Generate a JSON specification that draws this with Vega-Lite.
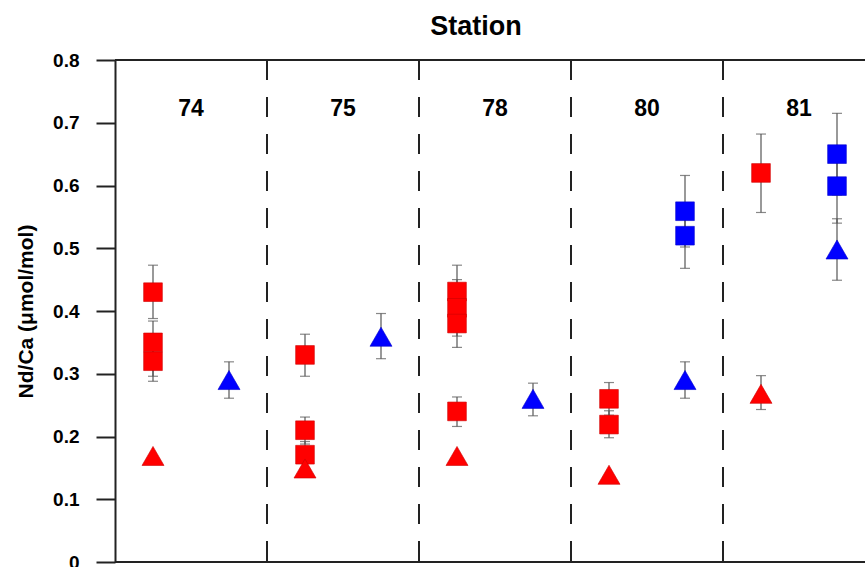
{
  "$schema": "https://vega.github.io/schema/vega-lite/v6.json",
  "autosize": {"type": "none"},
  "padding": {"left": 115, "top": 60, "right": 0, "bottom": 5},
  "width": 750,
  "height": 502,
  "background": "white",
  "config": {
    "font": "Liberation Sans",
    "view": {"stroke": null}
  },
  "title": {
    "text": "Station",
    "fontSize": 27,
    "fontWeight": "bold",
    "color": "black",
    "anchor": "middle",
    "frame": "group",
    "dx": -14,
    "offset": 10
  },
  "datasets": {
    "stations": [
      {"station": "74"},
      {"station": "75"},
      {"station": "78"},
      {"station": "80"},
      {"station": "81"}
    ],
    "points": [
      {"station": "74", "group": "A", "marker": "square", "value": 0.430, "lo": 0.388, "hi": 0.473},
      {"station": "74", "group": "A", "marker": "square", "value": 0.350, "lo": 0.296, "hi": 0.384},
      {"station": "74", "group": "A", "marker": "square", "value": 0.320, "lo": 0.288, "hi": 0.352},
      {"station": "74", "group": "A", "marker": "triangle", "value": 0.169, "lo": null, "hi": null},
      {"station": "74", "group": "B", "marker": "triangle", "value": 0.290, "lo": 0.261, "hi": 0.319},
      {"station": "75", "group": "A", "marker": "square", "value": 0.330, "lo": 0.296, "hi": 0.363},
      {"station": "75", "group": "A", "marker": "square", "value": 0.210, "lo": 0.188, "hi": 0.231},
      {"station": "75", "group": "A", "marker": "square", "value": 0.171, "lo": 0.150, "hi": 0.192},
      {"station": "75", "group": "A", "marker": "triangle", "value": 0.149, "lo": null, "hi": null},
      {"station": "75", "group": "B", "marker": "triangle", "value": 0.359, "lo": 0.324, "hi": 0.396},
      {"station": "78", "group": "A", "marker": "square", "value": 0.431, "lo": 0.389, "hi": 0.473},
      {"station": "78", "group": "A", "marker": "square", "value": 0.405, "lo": 0.360, "hi": 0.450},
      {"station": "78", "group": "A", "marker": "square", "value": 0.380, "lo": 0.342, "hi": 0.418},
      {"station": "78", "group": "A", "marker": "square", "value": 0.240, "lo": 0.216, "hi": 0.263},
      {"station": "78", "group": "A", "marker": "triangle", "value": 0.169, "lo": null, "hi": null},
      {"station": "78", "group": "B", "marker": "triangle", "value": 0.260, "lo": 0.233, "hi": 0.285},
      {"station": "80", "group": "A", "marker": "square", "value": 0.260, "lo": 0.234, "hi": 0.286},
      {"station": "80", "group": "A", "marker": "square", "value": 0.219, "lo": 0.198, "hi": 0.241},
      {"station": "80", "group": "A", "marker": "triangle", "value": 0.139, "lo": null, "hi": null},
      {"station": "80", "group": "B", "marker": "square", "value": 0.559, "lo": 0.502, "hi": 0.616},
      {"station": "80", "group": "B", "marker": "square", "value": 0.520, "lo": 0.468, "hi": 0.572},
      {"station": "80", "group": "B", "marker": "triangle", "value": 0.290, "lo": 0.261, "hi": 0.319},
      {"station": "81", "group": "A", "marker": "square", "value": 0.620, "lo": 0.557, "hi": 0.682},
      {"station": "81", "group": "A", "marker": "triangle", "value": 0.268, "lo": 0.243, "hi": 0.297},
      {"station": "81", "group": "B", "marker": "square", "value": 0.650, "lo": 0.585, "hi": 0.715},
      {"station": "81", "group": "B", "marker": "square", "value": 0.599, "lo": 0.540, "hi": 0.658},
      {"station": "81", "group": "B", "marker": "triangle", "value": 0.498, "lo": 0.449, "hi": 0.547}
    ]
  },
  "layer": [
    {
      "data": {"name": "stations"},
      "transform": [{"filter": "datum.station != '74'"}],
      "mark": {"type": "rule", "color": "#222222", "strokeWidth": 2, "strokeDash": [20, 17]},
      "encoding": {
        "x": {
          "field": "station", "type": "nominal", "bandPosition": 0,
          "sort": ["74", "75", "78", "80", "81"],
          "scale": {"domain": ["74", "75", "78", "80", "81"], "range": [0, 760], "paddingInner": 0, "paddingOuter": 0},
          "axis": null
        }
      }
    },
    {
      "data": {"values": [{"edge": "top"}]},
      "mark": {"type": "rule", "color": "#222222", "strokeWidth": 2},
      "encoding": {"y": {"datum": 0.8, "type": "quantitative"}}
    },
    {
      "data": {"values": [{"edge": "bottom"}]},
      "mark": {"type": "rule", "color": "#222222", "strokeWidth": 2},
      "encoding": {"y": {"datum": 0, "type": "quantitative"}}
    },
    {
      "data": {"name": "stations"},
      "mark": {"type": "text", "fontSize": 23, "fontWeight": "bold", "color": "black", "baseline": "middle", "align": "center"},
      "encoding": {
        "x": {"field": "station", "type": "nominal"},
        "y": {"datum": 0.722, "type": "quantitative"},
        "text": {"field": "station"}
      }
    },
    {
      "data": {"name": "points"},
      "transform": [{"filter": "datum.lo != null"}],
      "mark": {"type": "rule", "color": "#555555", "strokeWidth": 1.2},
      "encoding": {
        "x": {"field": "station", "type": "nominal"},
        "xOffset": {"field": "group", "type": "nominal", "scale": {"domain": ["A", "B"], "paddingInner": 0, "paddingOuter": 0}},
        "y": {"field": "lo", "type": "quantitative"},
        "y2": {"field": "hi"}
      }
    },
    {
      "data": {"name": "points"},
      "transform": [{"filter": "datum.lo != null"}],
      "mark": {"type": "tick", "orient": "horizontal", "size": 10, "thickness": 1.2, "color": "#555555"},
      "encoding": {
        "x": {"field": "station", "type": "nominal"},
        "xOffset": {"field": "group", "type": "nominal"},
        "y": {"field": "lo", "type": "quantitative"}
      }
    },
    {
      "data": {"name": "points"},
      "transform": [{"filter": "datum.hi != null"}],
      "mark": {"type": "tick", "orient": "horizontal", "size": 10, "thickness": 1.2, "color": "#555555"},
      "encoding": {
        "x": {"field": "station", "type": "nominal"},
        "xOffset": {"field": "group", "type": "nominal"},
        "y": {"field": "hi", "type": "quantitative"}
      }
    },
    {
      "data": {"name": "points"},
      "transform": [{"filter": "datum.marker == 'square'"}],
      "mark": {"type": "point", "shape": "square", "filled": true, "size": 350, "opacity": 1, "strokeWidth": 0.6},
      "encoding": {
        "x": {"field": "station", "type": "nominal"},
        "xOffset": {"field": "group", "type": "nominal"},
        "y": {
          "field": "value", "type": "quantitative",
          "scale": {"domain": [0, 0.8], "nice": false, "zero": true},
          "axis": {
            "title": "Nd/Ca (μmol/mol)",
            "titleFontSize": 21,
            "titleFontWeight": "bold",
            "titleColor": "black",
            "titlePadding": 16,
            "values": [0, 0.1, 0.2, 0.3, 0.4, 0.5, 0.6, 0.7, 0.8],
            "labelExpr": "datum.value == 0 ? '0' : format(datum.value, '.1f')",
            "labelFontSize": 19,
            "labelFontWeight": "bold",
            "labelColor": "black",
            "labelPadding": 17,
            "tickSize": 19,
            "tickWidth": 2,
            "tickColor": "#222222",
            "domainWidth": 2,
            "domainColor": "#222222",
            "grid": false
          }
        },
        "color": {"field": "group", "type": "nominal", "scale": {"domain": ["A", "B"], "range": ["#ff0000", "#0000ff"]}, "legend": null},
        "stroke": {"field": "group", "type": "nominal", "scale": {"domain": ["A", "B"], "range": ["#cc0000", "#0000cc"]}, "legend": null}
      }
    },
    {
      "data": {"name": "points"},
      "transform": [{"filter": "datum.marker == 'triangle'"}],
      "mark": {"type": "point", "shape": "M0,-0.866L1,0.866L-1,0.866Z", "filled": true, "size": 484, "opacity": 1, "strokeWidth": 0.6},
      "encoding": {
        "x": {"field": "station", "type": "nominal"},
        "xOffset": {"field": "group", "type": "nominal"},
        "y": {"field": "value", "type": "quantitative"},
        "color": {"field": "group", "type": "nominal", "legend": null},
        "stroke": {"field": "group", "type": "nominal", "legend": null}
      }
    }
  ]
}
